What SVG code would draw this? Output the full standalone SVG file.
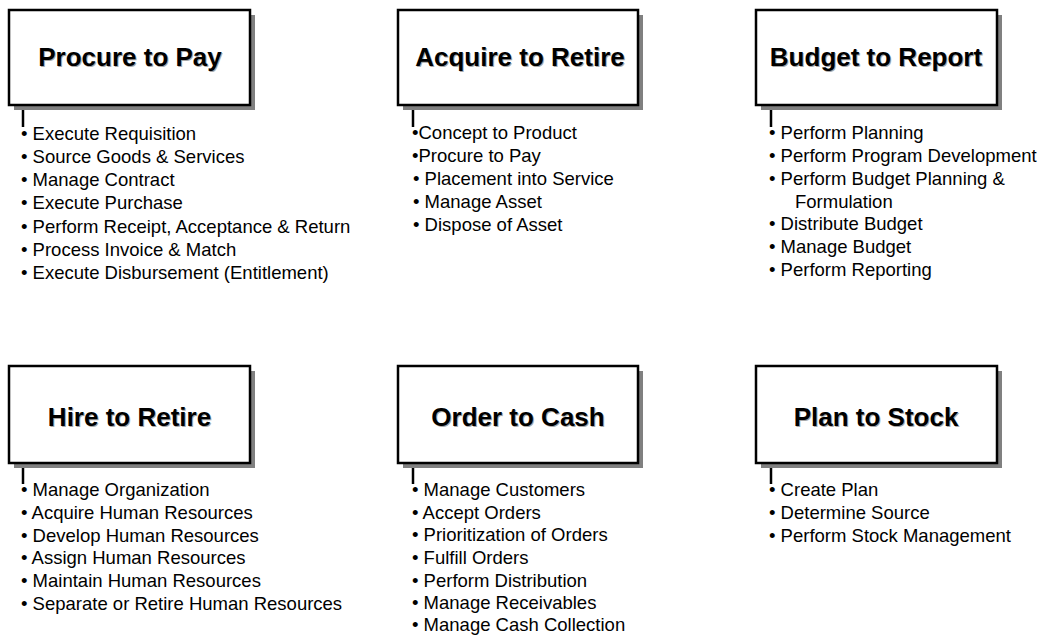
<svg xmlns="http://www.w3.org/2000/svg" width="1041" height="635" viewBox="0 0 1041 635">
<style>
.shadow{fill:#808080;}
.box{fill:#ffffff;stroke:#000000;stroke-width:2.5;}
.title{font-family:"Liberation Sans",Arial,sans-serif;font-weight:bold;font-size:26px;fill:#000;text-anchor:middle;}
.tshadow{font-family:"Liberation Sans",Arial,sans-serif;font-weight:bold;font-size:26px;fill:#a8a8a8;text-anchor:middle;}
.item{font-family:"Liberation Sans",Arial,sans-serif;font-size:18.5px;fill:#000;}
.conn{stroke:#000;stroke-width:2.5;fill:none;}
</style>
<rect width="1041" height="635" fill="#ffffff"/>
<g id="connectors">
<line class="conn" x1="23" y1="105" x2="23" y2="127"/>
<line class="conn" x1="413" y1="105" x2="413" y2="127"/>
<line class="conn" x1="771" y1="105" x2="771" y2="127"/>
<line class="conn" x1="23" y1="463" x2="23" y2="484"/>
<line class="conn" x1="413" y1="463" x2="413" y2="484"/>
<line class="conn" x1="771" y1="463" x2="771" y2="484"/>
</g>
<g id="procure-to-pay">
<rect class="shadow" x="14" y="15" width="241" height="95"/>
<rect class="box" x="9" y="10" width="241" height="95"/>
<text class="tshadow" x="131" y="67">Procure to Pay</text>
<text class="title" x="130" y="66">Procure to Pay</text>
<text class="item" x="21" y="140">• Execute Requisition</text>
<text class="item" x="21" y="163">• Source Goods &amp; Services</text>
<text class="item" x="21" y="186">• Manage Contract</text>
<text class="item" x="21" y="209">• Execute Purchase</text>
<text class="item" x="21" y="233">• Perform Receipt, Acceptance &amp; Return</text>
<text class="item" x="21" y="256">• Process Invoice &amp; Match</text>
<text class="item" x="21" y="279">• Execute Disbursement (Entitlement)</text>
</g>
<g id="acquire-to-retire">
<rect class="shadow" x="403" y="15" width="240" height="95"/>
<rect class="box" x="398" y="10" width="240" height="95"/>
<text class="tshadow" x="521" y="67">Acquire to Retire</text>
<text class="title" x="520" y="66">Acquire to Retire</text>
<text class="item" x="412" y="139">•Concept to Product</text>
<text class="item" x="412" y="162">•Procure to Pay</text>
<text class="item" x="413" y="185">• Placement into Service</text>
<text class="item" x="413" y="208">• Manage Asset</text>
<text class="item" x="413" y="231">• Dispose of Asset</text>
</g>
<g id="budget-to-report">
<rect class="shadow" x="761" y="15" width="241" height="95"/>
<rect class="box" x="756" y="10" width="241" height="95"/>
<text class="tshadow" x="877" y="67">Budget to Report</text>
<text class="title" x="876" y="66">Budget to Report</text>
<text class="item" x="769" y="139">• Perform Planning</text>
<text class="item" x="769" y="162">• Perform Program Development</text>
<text class="item" x="769" y="185">• Perform Budget Planning &amp;</text>
<text class="item" x="795" y="208">Formulation</text>
<text class="item" x="769" y="230">• Distribute Budget</text>
<text class="item" x="769" y="253">• Manage Budget</text>
<text class="item" x="769" y="276">• Perform Reporting</text>
</g>
<g id="hire-to-retire">
<rect class="shadow" x="14" y="371" width="241" height="97"/>
<rect class="box" x="9" y="366" width="241" height="97"/>
<text class="tshadow" x="130.5" y="427">Hire to Retire</text>
<text class="title" x="129.5" y="426">Hire to Retire</text>
<text class="item" x="21" y="496">• Manage Organization</text>
<text class="item" x="21" y="519">• Acquire Human Resources</text>
<text class="item" x="21" y="542">• Develop Human Resources</text>
<text class="item" x="21" y="564">• Assign Human Resources</text>
<text class="item" x="21" y="587">• Maintain Human Resources</text>
<text class="item" x="21" y="610">• Separate or Retire Human Resources</text>
</g>
<g id="order-to-cash">
<rect class="shadow" x="403" y="371" width="240" height="97"/>
<rect class="box" x="398" y="366" width="240" height="97"/>
<text class="tshadow" x="519" y="427">Order to Cash</text>
<text class="title" x="518" y="426">Order to Cash</text>
<text class="item" x="412" y="496">• Manage Customers</text>
<text class="item" x="412" y="519">• Accept Orders</text>
<text class="item" x="412" y="541">• Prioritization of Orders</text>
<text class="item" x="412" y="564">• Fulfill Orders</text>
<text class="item" x="412" y="587">• Perform Distribution</text>
<text class="item" x="412" y="609">• Manage Receivables</text>
<text class="item" x="412" y="631">• Manage Cash Collection</text>
</g>
<g id="plan-to-stock">
<rect class="shadow" x="761" y="371" width="241" height="97"/>
<rect class="box" x="756" y="366" width="241" height="97"/>
<text class="tshadow" x="877" y="427">Plan to Stock</text>
<text class="title" x="876" y="426">Plan to Stock</text>
<text class="item" x="769" y="496">• Create Plan</text>
<text class="item" x="769" y="519">• Determine Source</text>
<text class="item" x="769" y="542">• Perform Stock Management</text>
</g>
</svg>
